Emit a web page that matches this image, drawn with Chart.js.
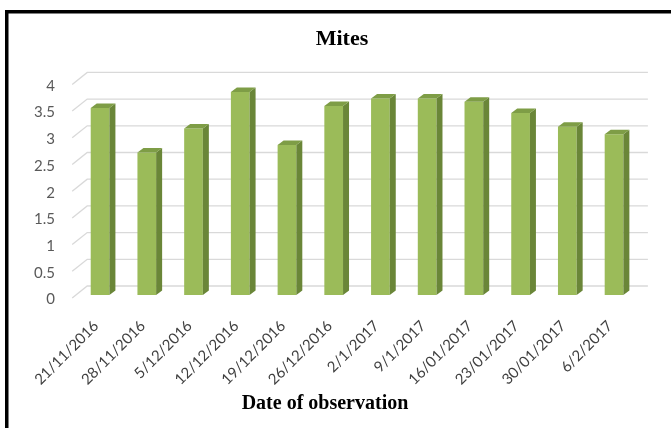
<!DOCTYPE html>
<html>
<head>
<meta charset="utf-8">
<script src="https://cdn.jsdelivr.net/npm/chart.js@4.4.0/dist/chart.umd.min.js"></script>
<style>
  html, body { margin: 0; padding: 0; background: #ffffff; }
  #wrap { width: 671px; height: 428px; }
</style>
</head>
<body>
<div id="wrap"><canvas id="c" width="671" height="428"></canvas></div>
<script>
// Observation dates (weekly)
const categories = [
  '21/11/2016', '28/11/2016', '5/12/2016', '12/12/2016', '19/12/2016', '26/12/2016',
  '2/1/2017', '9/1/2017', '16/01/2017', '23/01/2017', '30/01/2017', '6/2/2017'
];
// Mean number of mites per observation date
const mites = [3.5, 2.67, 3.12, 3.8, 2.81, 3.54, 3.68, 3.68, 3.62, 3.41, 3.15, 3.01];
// Value axis range and step
const yMin = 0;
const yMax = 4;
const yStep = 0.5;

const chartTitle = 'Mites';
const xTitle = 'Date of observation';

// Pseudo-3D look: depth of each column and offset of the back wall
const BAR_DX = 6, BAR_DY = 4.5;
const WALL_BACK_DX = 10.5, WALL_BACK_DY = -9;
const WALL_FRONT_DX = -4.5, WALL_FRONT_DY = 3;

const TICK_FONT = { family: 'Lato, "Open Sans", sans-serif', size: 15 };

const columns3d = {
  id: 'columns3d',
  beforeDraw(chart) {
    const { ctx, width, height } = chart;
    ctx.save();
    ctx.fillStyle = '#ffffff';
    ctx.fillRect(0, 0, width, height);
    // frame around the chart (top and left edges)
    ctx.fillStyle = '#000000';
    ctx.fillRect(5, 10, width - 5, 3.5);
    ctx.fillRect(5, 10, 3.5, height - 10);
    ctx.restore();
  },
  beforeDatasetsDraw(chart) {
    const { ctx, chartArea } = chart;
    const ys = chart.scales.y;
    ctx.save();
    ctx.strokeStyle = '#d9d9d9';
    ctx.lineWidth = 1.3;
    ys.ticks.forEach(t => {
      const py = ys.getPixelForValue(t.value);
      ctx.beginPath();
      ctx.moveTo(chartArea.left + WALL_FRONT_DX, py + WALL_FRONT_DY);
      ctx.lineTo(chartArea.left + WALL_BACK_DX, py + WALL_BACK_DY);
      ctx.lineTo(chartArea.right + WALL_BACK_DX, py + WALL_BACK_DY);
      ctx.stroke();
    });
    ctx.restore();
  },
  afterDatasetsDraw(chart) {
    const { ctx } = chart;
    const meta = chart.getDatasetMeta(0);
    ctx.save();
    meta.data.forEach(el => {
      const { x, y, base, width } = el.getProps(['x', 'y', 'base', 'width'], true);
      const left = x - width / 2, right = x + width / 2;
      // side face
      ctx.fillStyle = '#6a8638';
      ctx.beginPath();
      ctx.moveTo(right, y);
      ctx.lineTo(right + BAR_DX, y - BAR_DY);
      ctx.lineTo(right + BAR_DX, base - BAR_DY);
      ctx.lineTo(right, base);
      ctx.closePath();
      ctx.fill();
      // top face
      ctx.fillStyle = '#7e9d46';
      ctx.beginPath();
      ctx.moveTo(left, y);
      ctx.lineTo(left + BAR_DX, y - BAR_DY);
      ctx.lineTo(right + BAR_DX, y - BAR_DY);
      ctx.lineTo(right, y);
      ctx.closePath();
      ctx.fill();
    });
    ctx.restore();
  },
  afterDraw(chart) {
    const { ctx } = chart;
    ctx.save();
    ctx.fillStyle = '#000000';
    ctx.font = 'bold 20px "Liberation Serif", "Times New Roman", serif';
    ctx.textAlign = 'center';
    ctx.textBaseline = 'middle';
    ctx.fillText(xTitle, 325, 404);
    ctx.restore();
  }
};

// widest value label, used to right-align the mirrored labels at a fixed edge
function widestTickLabel() {
  const c = document.createElement('canvas').getContext('2d');
  c.font = TICK_FONT.size + 'px ' + TICK_FONT.family;
  let w = 0;
  for (let v = yMin; v <= yMax + 1e-9; v += yStep) w = Math.max(w, c.measureText(String(v)).width);
  return w;
}
const Y_LABEL_RIGHT = 55;
const Y_AXIS_RIGHT = 46.6 + 30.1;

new Chart(document.getElementById('c'), {
  type: 'bar',
  data: {
    labels: categories,
    datasets: [{
      label: chartTitle,
      data: mites,
      backgroundColor: '#9bbb59',
      borderWidth: 0,
      barPercentage: 0.4,
      categoryPercentage: 1.0
    }]
  },
  options: {
    responsive: false,
    animation: false,
    devicePixelRatio: 1,
    layout: { padding: { left: 46.6, right: 33.6, top: 0, bottom: 0 } },
    plugins: {
      legend: { display: false },
      tooltip: { enabled: false },
      title: {
        display: true,
        text: chartTitle,
        color: '#000000',
        font: { family: '"Liberation Serif", "Times New Roman", serif', size: 22, weight: 'bold', lineHeight: 1.2 },
        padding: { top: 25.8, bottom: 29.2 }
      }
    },
    scales: {
      x: {
        grid: { display: false },
        border: { display: false },
        ticks: {
          autoSkip: false,
          minRotation: 45,
          maxRotation: 45,
          padding: 14,
          labelOffset: -4,
          color: '#404040',
          font: TICK_FONT
        },
        afterFit(scale) { scale.height = 133; }
      },
      y: {
        min: yMin,
        max: yMax,
        grid: { display: false, drawTicks: false },
        border: { display: false },
        ticks: {
          stepSize: yStep,
          mirror: true,
          crossAlign: 'far',
          padding: Y_LABEL_RIGHT - Y_AXIS_RIGHT - widestTickLabel(),
          labelOffset: 4.5,
          color: '#595959',
          font: TICK_FONT,
          callback: v => String(v)
        },
        afterFit(scale) { scale.width = 30.1; }
      }
    }
  },
  plugins: [columns3d]
});
</script>
</body>
</html>
